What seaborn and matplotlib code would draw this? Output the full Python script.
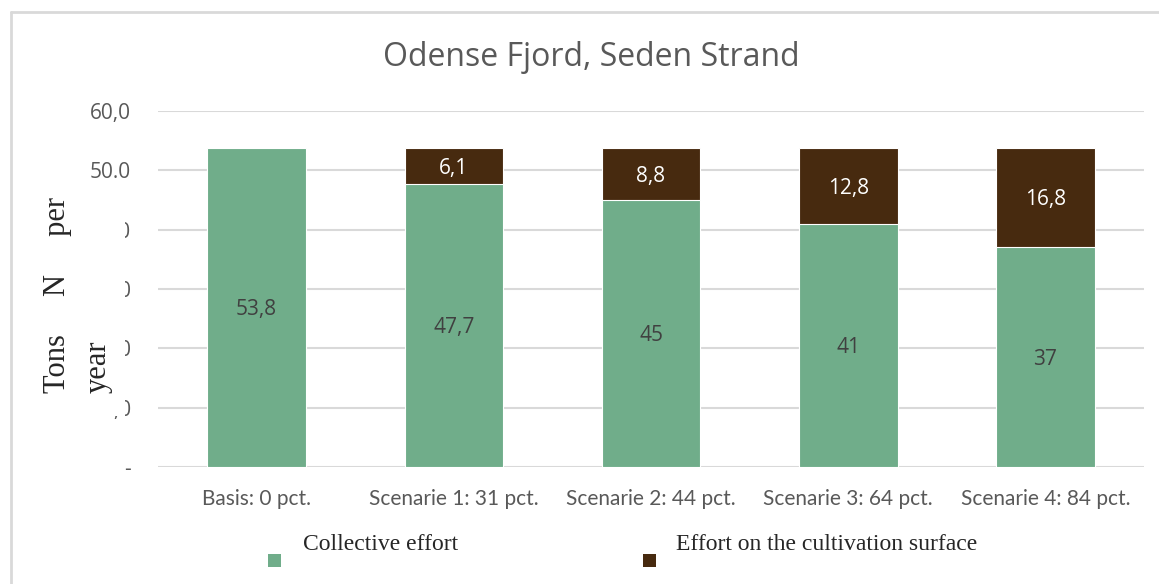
import matplotlib
matplotlib.use("Agg")
import matplotlib.pyplot as plt
import seaborn as sns
import pandas as pd
from matplotlib.patches import Rectangle
from matplotlib.lines import Line2D

categories = ["Basis: 0 pct.", "Scenarie 1: 31 pct.", "Scenarie 2: 44 pct.",
              "Scenarie 3: 64 pct.", "Scenarie 4: 84 pct."]
collective = [53.8, 47.7, 45, 41, 37]
cultivation = [0, 6.1, 8.8, 12.8, 16.8]
collective_labels = ["53,8", "47,7", "45", "41", "37"]
cultivation_labels = ["", "6,1", "8,8", "12,8", "16,8"]
ytick_values = [0, 10, 20, 30, 40, 50, 60]
ytick_labels = ["-", "10,0", "20,0", "30,0", "40,0", "50.0", "60,0"]

GREEN = "#70AD8A"
BROWN = "#472A0F"
GRID = "#D9D9D9"
TXT = "#595959"

sns.set_theme(style="white")
plt.rcParams["font.family"] = ["Open Sans", "DejaVu Sans"]

W, H = 1159, 584
fig = plt.figure(figsize=(W / 100, H / 100), dpi=100)

def fx(px):
    return px / W

def fy(py):
    return 1 - py / H

ax = fig.add_axes([fx(158), fy(467), fx(1144) - fx(158), fy(111) - fy(467)])

df = pd.DataFrame({
    "category": categories,
    "collective": collective,
    "cultivation": cultivation,
})
df["total"] = df["collective"] + df["cultivation"]

sns.barplot(data=df, x="category", y="total", color=BROWN, saturation=1,
            width=0.5, edgecolor="white", linewidth=0.8, ax=ax, zorder=2)
sns.barplot(data=df, x="category", y="collective", color=GREEN, saturation=1,
            width=0.5, edgecolor="white", linewidth=0.8, ax=ax, zorder=3)

for i, row in df.iterrows():
    ax.text(i, row["collective"] / 2 - 0.4, collective_labels[i], ha="center",
            va="center", fontsize=15, color="#404040", zorder=5)
    if cultivation_labels[i]:
        ax.text(i, row["collective"] + row["cultivation"] / 2 - 0.4,
                cultivation_labels[i], ha="center", va="center",
                fontsize=15, color="white", zorder=5)

ax.set_xlim(-0.5, len(categories) - 0.5)
ax.set_ylim(0, 60)
ax.set_yticks(ytick_values)
ax.set_yticklabels(ytick_labels, fontsize=15, color=TXT)
ax.tick_params(axis="y", length=0, pad=19.5)
ax.tick_params(axis="x", length=0, pad=16)
ax.set_xticks(range(len(categories)))
ax.set_xticklabels(categories, fontsize=15, color=TXT, family=["Lato", "DejaVu Sans"])
ax.set_xlabel("")
ax.set_ylabel("")
ax.yaxis.grid(True, color=GRID, linewidth=1.5, zorder=0)
ax.set_axisbelow(True)
for s in ax.spines.values():
    s.set_visible(False)

# White panel behind the axis title, partly hiding the lower tick labels
fig.patches.append(Rectangle((fx(20), fy(416)), fx(125) - fx(20), fy(190) - fy(416),
                             transform=fig.transFigure, facecolor="white",
                             edgecolor="none", zorder=10))

serif = ["Liberation Serif", "DejaVu Serif"]
fig.text(fx(57), fy(393), "Tons     N     per", rotation=90, ha="center", va="bottom",
         fontsize=22, family=serif, color="#262626", zorder=11)
fig.text(fx(98), fy(393), "year", rotation=90, ha="center", va="bottom",
         fontsize=22, family=serif, color="#262626", zorder=11)

fig.text(fx(591), fy(57), "Odense Fjord, Seden Strand", ha="center", va="center",
         fontsize=23, color=TXT)

# Legend row
fig.patches.append(Rectangle((fx(268), fy(567)), fx(13), 13 / H,
                             transform=fig.transFigure, facecolor=GREEN, edgecolor="none"))
fig.patches.append(Rectangle((fx(643), fy(567)), fx(13), 13 / H,
                             transform=fig.transFigure, facecolor=BROWN, edgecolor="none"))
fig.text(fx(303), fy(544), "Collective effort", ha="left", va="center",
         fontsize=17, family=serif, color="#262626")
fig.text(fx(676), fy(544), "Effort on the cultivation surface", ha="left", va="center",
         fontsize=17, family=serif, color="#262626")

# Outer frame (top and left edges)
fig.lines.append(Line2D([fx(11), fx(11)], [0, fy(12)], transform=fig.transFigure,
                        color=GRID, linewidth=2))
fig.lines.append(Line2D([fx(11), 1], [fy(12), fy(12)], transform=fig.transFigure,
                        color=GRID, linewidth=2))

fig.savefig("out.png", dpi=100, facecolor="white")
